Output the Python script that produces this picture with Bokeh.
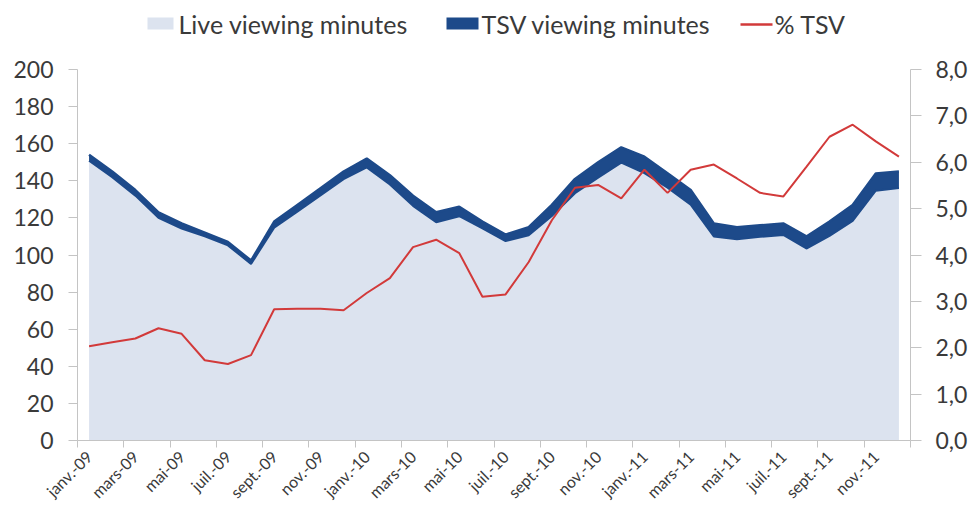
import numpy as np
from bokeh.plotting import figure
from bokeh.layouts import column
from bokeh.models import Range1d, LinearAxis, FixedTicker, ColumnDataSource
from bokeh.core.properties import value
from bokeh.embed import file_html
from bokeh.resources import INLINE

months = ["janv.-09", "févr.-09", "mars-09", "avr.-09", "mai-09", "juin-09",
          "juil.-09", "août-09", "sept.-09", "oct.-09", "nov.-09", "déc.-09",
          "janv.-10", "févr.-10", "mars-10", "avr.-10", "mai-10", "juin-10",
          "juil.-10", "août-10", "sept.-10", "oct.-10", "nov.-10", "déc.-10",
          "janv.-11", "févr.-11", "mars-11", "avr.-11", "mai-11", "juin-11",
          "juil.-11", "août-11", "sept.-11", "oct.-11", "nov.-11", "déc.-11"]

live_minutes = [150.9, 141.9, 132.0, 120.0, 114.3, 110.1, 105.2, 95.2, 114.7, 123.4, 132.1, 140.9,
                147.2, 138.0, 126.5, 117.7, 120.9, 114.3, 107.5, 110.6, 121.0, 133.3, 141.7, 149.8,
                144.1, 136.3, 127.1, 110.0, 108.5, 109.8, 110.8, 103.5, 110.3, 118.4, 134.7, 136.1]

tsv_minutes = [3.1, 3.1, 3.0, 3.0, 2.7, 1.9, 1.8, 1.8, 3.3, 3.6, 3.9, 4.1,
               4.8, 5.0, 5.5, 5.3, 5.1, 3.7, 3.5, 4.4, 6.0, 7.7, 8.3, 8.2,
               8.9, 7.7, 7.9, 7.0, 6.5, 6.2, 6.2, 6.5, 7.7, 8.6, 9.3, 8.9]

pct_tsv = [2.03, 2.12, 2.20, 2.42, 2.30, 1.73, 1.65, 1.84, 2.83, 2.84, 2.84, 2.81,
           3.18, 3.50, 4.17, 4.33, 4.04, 3.10, 3.15, 3.85, 4.75, 5.45, 5.51, 5.22,
           5.84, 5.34, 5.84, 5.95, 5.65, 5.34, 5.26, 5.90, 6.55, 6.81, 6.45, 6.12]

series_names = ["Live viewing minutes", "TSV viewing minutes", "% TSV"]

left_ticks = [0, 20, 40, 60, 80, 100, 120, 140, 160, 180, 200]
right_ticks = [0, 1, 2, 3, 4, 5, 6, 7, 8]
right_labels = ["0,0", "1,0", "2,0", "3,0", "4,0", "5,0", "6,0", "7,0", "8,0"]

x = np.arange(len(months))
live = np.array(live_minutes)
total = live + np.array(tsv_minutes)
src = ColumnDataSource(dict(x=x, live=live, total=total, pct=pct_tsv,
                            zero=np.zeros(len(x))))

FONT = "Lato"
TXT = "#3a3a3a"
AXC = "#c4c4c4"
LIGHT = "#dce3ef"
DARK = "#1d4a8a"
RED = "#d23a3a"

BL, BR = 77, 64          # frame borders (shared by both rows of the column)
FL, FR = BL, 974 - BR

# ---------- legend strip (x in page pixels) ----------
LH = 45
leg = figure(width=974, height=LH, output_backend="svg", toolbar_location=None,
             x_range=Range1d(FL, FR), y_range=Range1d(LH, 0),
             min_border_left=BL, min_border_right=BR, min_border_top=0,
             min_border_bottom=0, outline_line_color=None)
leg.axis.visible = False
leg.grid.visible = False
leg.quad(left=147, right=173, top=17, bottom=29, fill_color=LIGHT, line_color=None)
leg.quad(left=446, right=478, top=17, bottom=29, fill_color=DARK, line_color=None)
leg.line(x=[740, 772], y=[24, 24], line_color=RED, line_width=2.5)
leg.text(x=[178, 481, 774], y=[23, 23, 23], text=series_names,
         text_font=value(FONT), text_font_size="25px", text_color=TXT,
         text_baseline="middle", text_align="left")

# ---------- main chart ----------
p = figure(width=974, height=520 - LH, output_backend="svg", toolbar_location=None,
           x_range=Range1d(-0.5, len(months) - 0.5), y_range=Range1d(0, 200),
           min_border_left=BL, min_border_right=BR, min_border_top=24,
           min_border_bottom=80, outline_line_color=None)
p.xgrid.visible = False
p.ygrid.visible = False
p.extra_y_ranges = {"pct": Range1d(0, 8)}

p.varea(x="x", y1="zero", y2="live", source=src, fill_color=LIGHT)
p.varea(x="x", y1="live", y2="total", source=src, fill_color=DARK)
p.line(x="x", y="total", source=src, line_color=DARK, line_width=2.5)
p.line(x="x", y="live", source=src, line_color=DARK, line_width=2)
p.line(x="x", y="pct", source=src, y_range_name="pct",
       line_color=RED, line_width=2)

# x axis
xa = p.xaxis[0]
label_pos = list(range(0, len(months), 2))
xa.ticker = FixedTicker(ticks=label_pos,
                        minor_ticks=[i - 0.5 for i in range(0, len(months) + 1, 2)])
xa.major_label_overrides = {i: months[i] for i in label_pos}
xa.major_label_orientation = np.pi / 4
xa.major_tick_line_color = None
xa.minor_tick_in = 0
xa.minor_tick_out = 7
xa.minor_tick_line_color = AXC
xa.axis_line_color = AXC
xa.major_label_text_font = FONT
xa.major_label_text_font_size = "16px"
xa.major_label_text_color = TXT
xa.major_label_standoff = 6

# left axis
ya = p.yaxis[0]
ya.ticker = FixedTicker(ticks=left_ticks)
ya.minor_tick_line_color = None
ya.major_tick_in = 0
ya.major_tick_out = 9
ya.major_tick_line_color = AXC
ya.axis_line_color = AXC
ya.major_label_text_font = FONT
ya.major_label_text_font_size = "23px"
ya.major_label_text_color = TXT
ya.major_label_standoff = 15

# right axis
ra = LinearAxis(y_range_name="pct", ticker=FixedTicker(ticks=right_ticks))
ra.major_label_overrides = {t: l for t, l in zip(right_ticks, right_labels)}
ra.minor_tick_line_color = None
ra.major_tick_in = 0
ra.major_tick_out = 11
ra.major_tick_line_color = AXC
ra.axis_line_color = AXC
ra.major_label_text_font = FONT
ra.major_label_text_font_size = "23px"
ra.major_label_text_color = TXT
ra.major_label_standoff = 14
p.add_layout(ra, "right")

layout = column(leg, p, spacing=0)
open("out.html", "w").write(file_html(layout, INLINE))
